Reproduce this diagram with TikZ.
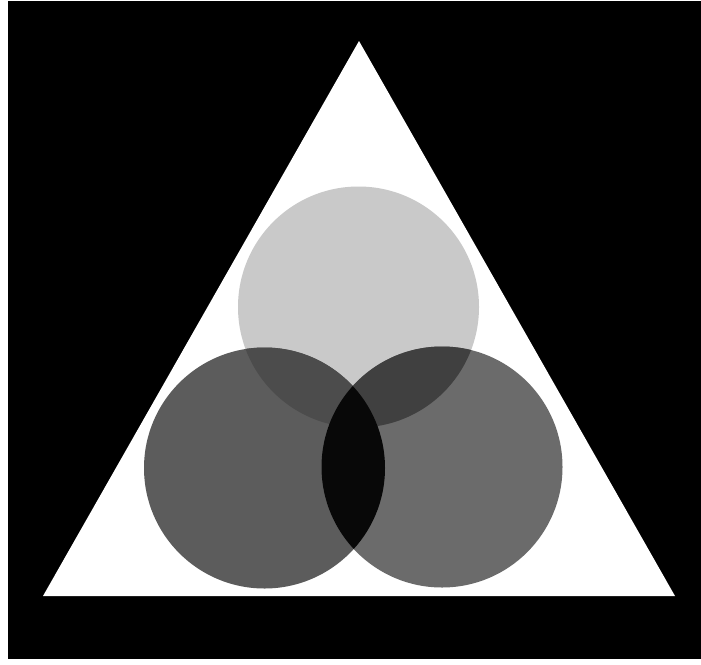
\documentclass[tikz,border=0pt]{standalone}
\usepackage{tikz}

\begin{document}
\begin{tikzpicture}[x=1pt,y=-1pt]
\def\rad{120.5pt}
\useasboundingbox (0,0) rectangle (701,664);
\fill[white] (0,0) rectangle (701,664);
\fill[black] (8,1) rectangle (701,659);
% triangle
\coordinate (apex) at (359,41);
\coordinate (bl) at (43,596);
\coordinate (br) at (675,596);
\fill[white] (apex)--(br)--(bl)--cycle;
% the three discs
\coordinate (ctop) at (358.5,307);
\coordinate (cleft) at (264.5,468);
\coordinate (cright) at (442,467);
\fill[black!21] (ctop) circle (\rad);
\fill[black!64] (cleft) circle (\rad);
\fill[black!58] (cright) circle (\rad);
% overlaps
\begin{scope}
\clip (ctop) circle (\rad);
\fill[black!70] (cleft) circle (\rad);
\fill[black!75] (cright) circle (\rad);
\end{scope}
\begin{scope}
\clip (cleft) circle (\rad);
\fill[black!97] (cright) circle (\rad);
\end{scope}
\end{tikzpicture}
\end{document}
